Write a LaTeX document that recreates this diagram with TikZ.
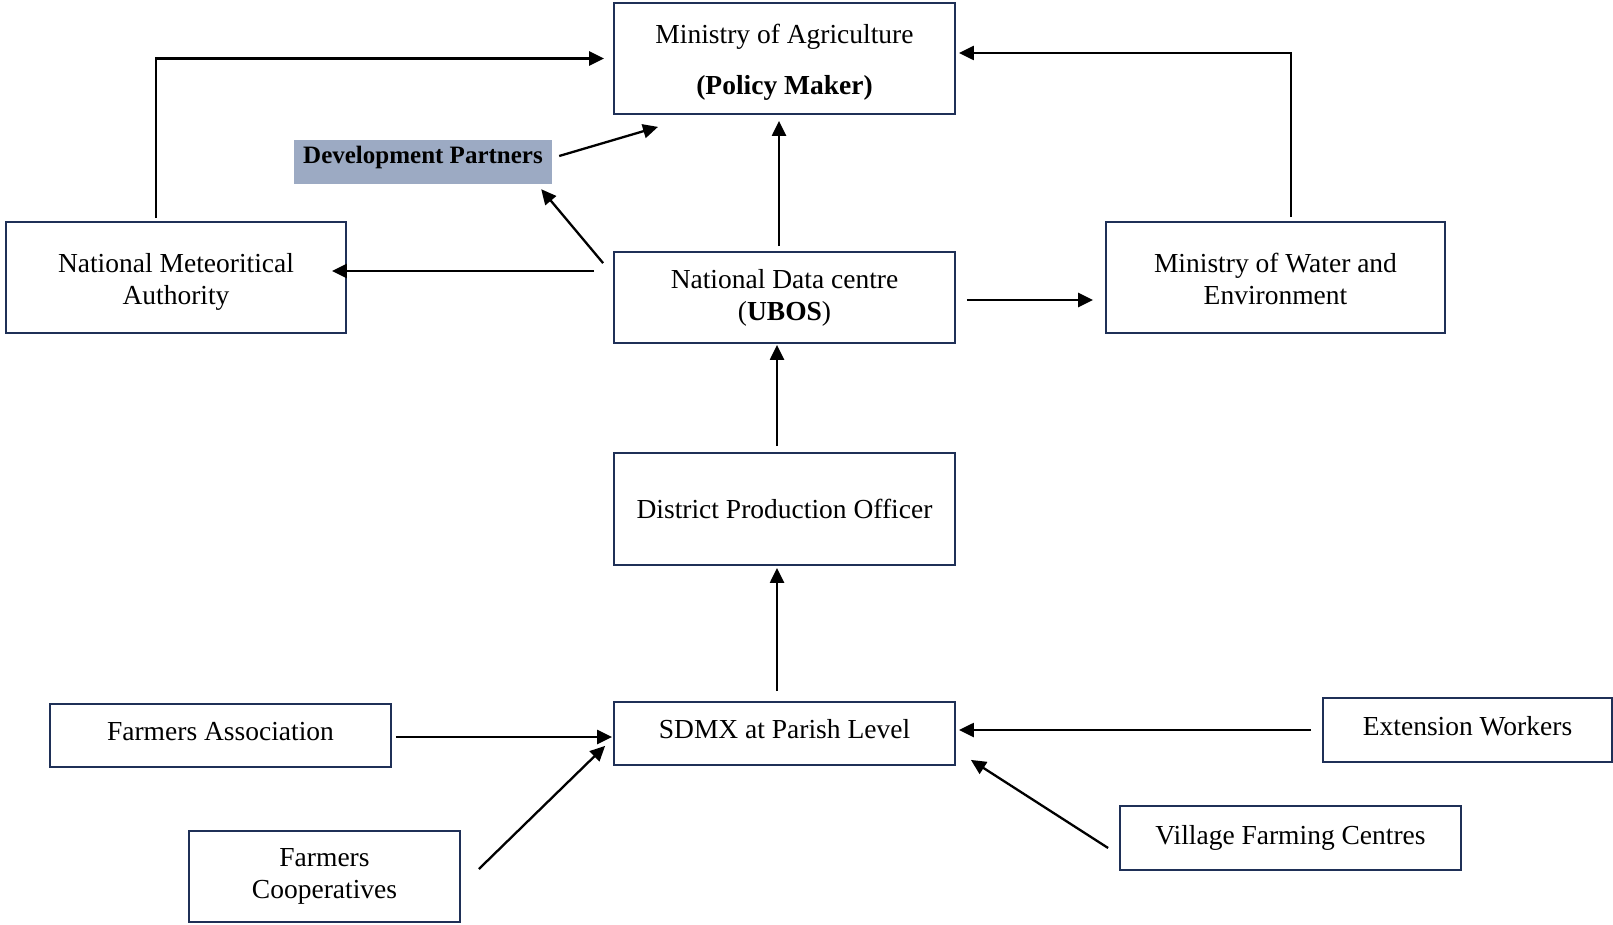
\documentclass[tikz,border=0pt]{standalone}
\usepackage{fontspec}
\setmainfont{Liberation Serif}
\usetikzlibrary{arrows.meta}
\definecolor{boxline}{HTML}{1F3057}
\definecolor{dpfill}{HTML}{9CAAC3}
\newcommand{\shiftline}[2]{\raisebox{#1}[\height][\depth]{#2}}
\tikzset{
  box/.style={draw=boxline, line width=1.8pt, rectangle, align=center, inner sep=0pt,
    font=\fontsize{27.5}{32}\selectfont},
  arr/.style={line width=2.3pt, -{Triangle[length=15pt,width=14pt]}},
}
\begin{document}
\begin{tikzpicture}[x=1pt,y=-1pt]
\useasboundingbox (0,0) rectangle (1613,925);
\node[box, minimum width=341pt, minimum height=111pt, font=\fontsize{27.5}{51}\selectfont] (moa) at (784.5,58.5) {\shiftline{-4pt}{Ministry of Agriculture}\\\shiftline{-4pt}{\textbf{(Policy Maker)}}};
\node[rectangle, fill=dpfill, minimum width=258pt, minimum height=44pt, inner sep=0pt, font=\fontsize{25}{30}\selectfont\bfseries] (dp) at (423,162) {\shiftline{3pt}{\raisebox{8pt}{Development Partners}}};
\node[box, minimum width=340pt, minimum height=111pt] (nma) at (176,277.5) {\shiftline{-4pt}{National Meteoritical}\\\shiftline{-4pt}{Authority}};
\node[box, minimum width=341pt, minimum height=91pt] (ndc) at (784.5,297.5) {National Data centre\\(\textbf{UBOS})};
\node[box, minimum width=339pt, minimum height=111pt] (mowe) at (1275.5,277.5) {\shiftline{-1pt}{Ministry of Water and}\\\shiftline{-1pt}{Environment}};
\node[box, minimum width=341pt, minimum height=112pt] (dpo) at (784.5,509) {District Production Officer};
\node[box, minimum width=341pt, minimum height=63pt] (sdmx) at (784.5,733.5) {\shiftline{3pt}{\raisebox{4pt}{SDMX at Parish Level}}};
\node[box, minimum width=341pt, minimum height=63pt] (fa) at (220.5,735.5) {\shiftline{2pt}{\raisebox{4pt}{Farmers Association}}};
\node[box, minimum width=271pt, minimum height=91pt] (fc) at (324.5,876.5) {Farmers\\Cooperatives};
\node[box, minimum width=289pt, minimum height=64pt] (ew) at (1467.5,730) {\shiftline{2pt}{\raisebox{4pt}{Extension Workers}}};
\node[box, minimum width=341pt, minimum height=64pt] (vfc) at (1290.5,838) {\raisebox{4pt}{Village Farming Centres}};

\draw[arr] ([xshift=-20pt,yshift=3pt]nma.north) |- ([xshift=-9pt]moa.west);
\draw[arr] ([xshift=15.5pt,yshift=4pt]mowe.north) |- ([xshift=3pt,yshift=5.5pt]moa.east);
\draw[arr] ([xshift=7pt,yshift=6pt]dp.east) -- ([xshift=-126.5pt,yshift=-12pt]moa.south);
\draw[arr] ([xshift=-10pt,yshift=-12pt]ndc.north west) -- ([xshift=-11pt,yshift=-5pt]dp.south east);
\draw[arr] ([xshift=-19pt,yshift=26.5pt]ndc.west) -- ([xshift=-15pt,yshift=6.5pt]nma.east);
\draw[arr] ([xshift=-5.5pt,yshift=5pt]ndc.north) -- ([xshift=-5.5pt,yshift=-6pt]moa.south);
\draw[arr] ([xshift=11pt,yshift=-2.5pt]ndc.east) -- ([xshift=-12pt,yshift=-22.5pt]mowe.west);
\draw[arr] ([xshift=-7.5pt,yshift=6pt]dpo.north) -- ([xshift=-7.5pt,yshift=-1pt]ndc.south);
\draw[arr] ([xshift=-7.5pt,yshift=10pt]sdmx.north) -- ([xshift=-7.5pt,yshift=-2pt]dpo.south);
\draw[arr] ([xshift=4pt,yshift=-1.5pt]fa.east) -- ([xshift=-1pt,yshift=-3.5pt]sdmx.west);
\draw[arr] ([xshift=18pt,yshift=7.5pt]fc.east) -- ([xshift=-8pt,yshift=20pt]sdmx.south west);
\draw[arr] ([xshift=-11pt]ew.west) -- ([xshift=3pt,yshift=3.5pt]sdmx.east);
\draw[arr] ([xshift=-11pt,yshift=-10pt]vfc.west) -- ([xshift=15pt,yshift=6pt]sdmx.south east);
\end{tikzpicture}
\end{document}
